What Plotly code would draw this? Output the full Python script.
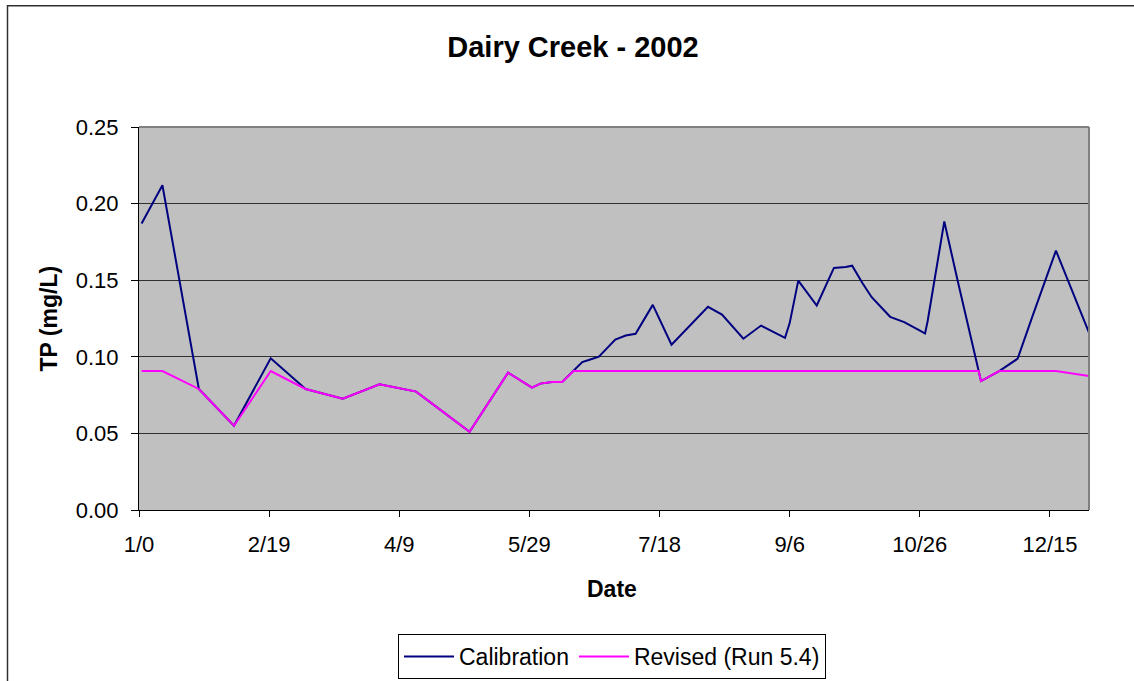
import plotly.graph_objects as go

# Day of year (0 = "1/0") and TP (mg/L)
cal_day = [1, 9, 23, 36.5, 50.6, 64, 78.3, 92.4, 106.5, 127, 141.8, 151, 154.2, 158.7, 162.6, 167,
           170.3, 172.8, 176.7, 183, 187, 190.8, 197.4, 204.6, 218.6, 224, 232.2, 239, 248.2, 250,
           253.3, 260.4, 267, 271.5, 274, 278, 281.5, 288.6, 294, 300.4, 302, 303, 309.4, 314.5,
           322.6, 323.5, 330.5, 337.6, 343.3, 352.3, 365]
cal_tp = [0.187, 0.212, 0.079, 0.055, 0.099, 0.079, 0.0727, 0.082, 0.0773, 0.051, 0.0896, 0.0799,
          0.0825, 0.0835, 0.0835, 0.0907, 0.0966, 0.0979, 0.1001, 0.1113, 0.1139, 0.115, 0.1339,
          0.1079, 0.1326, 0.1276, 0.1118, 0.1204, 0.1124, 0.122, 0.1497, 0.1335, 0.158, 0.1586,
          0.1595, 0.148, 0.1389, 0.1261, 0.1226, 0.1167, 0.1152, 0.1232, 0.1883, 0.150, 0.0907,
          0.0842, 0.0907, 0.0988, 0.1265, 0.1693, 0.1157]

rev_day = [1, 9, 23, 36.5, 50.6, 64, 78.3, 92.4, 106.5, 127, 141.8, 151, 154.2, 158.7, 162.6, 167,
           322.6, 323.5, 330.5, 352.3, 365]
rev_tp = [0.0907, 0.0907, 0.079, 0.055, 0.0907, 0.079, 0.0727, 0.082, 0.0773, 0.051, 0.0896, 0.0799,
          0.0825, 0.0835, 0.0835, 0.0907, 0.0907, 0.0842, 0.0907, 0.0907, 0.0874]

x_tickvals = [0, 50, 100, 150, 200, 250, 300, 350]
x_ticktext = ["1/0", "2/19", "4/9", "5/29", "7/18", "9/6", "10/26", "12/15"]
y_tickvals = [0, 0.05, 0.10, 0.15, 0.20, 0.25]

FONT = "Liberation Sans, Arial, sans-serif"

fig = go.Figure()
fig.add_trace(go.Scatter(x=cal_day, y=cal_tp, mode="lines", name="Calibration",
                         line=dict(color="#000080", width=2)))
fig.add_trace(go.Scatter(x=rev_day, y=rev_tp, mode="lines", name="Revised (Run 5.4)",
                         line=dict(color="#FF00FF", width=2)))

W, H = 1134, 690  # page is clipped at 681 by the window
L, R, T, B = 139, 1089, 127, 511

def px(xp):
    return (xp - L) / (R - L)

def py(yp):
    return (B - yp) / (B - T)

fig.update_layout(
    width=W, height=H,
    margin=dict(l=L, r=W - R, t=T, b=H - B, pad=0),
    paper_bgcolor="white",
    plot_bgcolor="#C0C0C0",
    font=dict(family=FONT, color="black", size=22),
    title=dict(text="<b>Dairy Creek - 2002</b>", x=573 / W, xanchor="center",
               y=1 - 47 / H, yanchor="middle", font=dict(size=29, family=FONT)),
    showlegend=True,
    legend=dict(orientation="h", x=px(612), xanchor="center", y=py(634), yanchor="top",
                bgcolor="white", bordercolor="black", borderwidth=1,
                font=dict(size=23, family=FONT), itemwidth=50, tracegroupgap=0),
    xaxis=dict(range=[0, 365], tickvals=x_tickvals, ticktext=x_ticktext,
               showgrid=False, zeroline=False, showline=True, linecolor="black", linewidth=1,
               ticks="outside", ticklen=6, tickcolor="black", tickwidth=1,
               ticklabelstandoff=9, tickfont=dict(size=22)),
    yaxis=dict(range=[0, 0.25], tickvals=y_tickvals, tickformat=".2f",
               showgrid=True, gridcolor="#303030", gridwidth=1, zeroline=False,
               showline=True, linecolor="black", linewidth=1,
               ticks="outside", ticklen=7, tickcolor="black", tickwidth=1,
               ticklabelstandoff=8, tickfont=dict(size=22)),
    annotations=[
        dict(text="<b>Date</b>", xref="paper", yref="paper", x=px(612), y=py(590),
             xanchor="center", yanchor="middle", showarrow=False, font=dict(size=23)),
        dict(text="<b>TP (mg/L)</b>", xref="paper", yref="paper", x=px(48), y=0.5,
             xanchor="center", yanchor="middle", textangle=-90, showarrow=False,
             font=dict(size=23)),
    ],
    shapes=[
        # outer chart frame (extends beyond page at right/bottom)
        dict(type="rect", xref="paper", yref="paper", x0=px(7.5), x1=px(1170), y0=py(720), y1=py(5.5),
             line=dict(color="#303030", width=1.5), fillcolor="rgba(0,0,0,0)", layer="below"),
        # plot-area grey border top/right
        dict(type="line", xref="paper", yref="paper", x0=0, x1=1, y0=1, y1=1,
             line=dict(color="#808080", width=2)),
        dict(type="line", xref="paper", yref="paper", x0=1, x1=1, y0=0, y1=1,
             line=dict(color="#808080", width=2)),
    ],
)

fig.write_html(
    "out.html",
    config={"displayModeBar": False},
    post_script="document.body.style.margin='0';document.body.style.overflow='hidden';"
                "document.documentElement.style.overflow='hidden';",
)
